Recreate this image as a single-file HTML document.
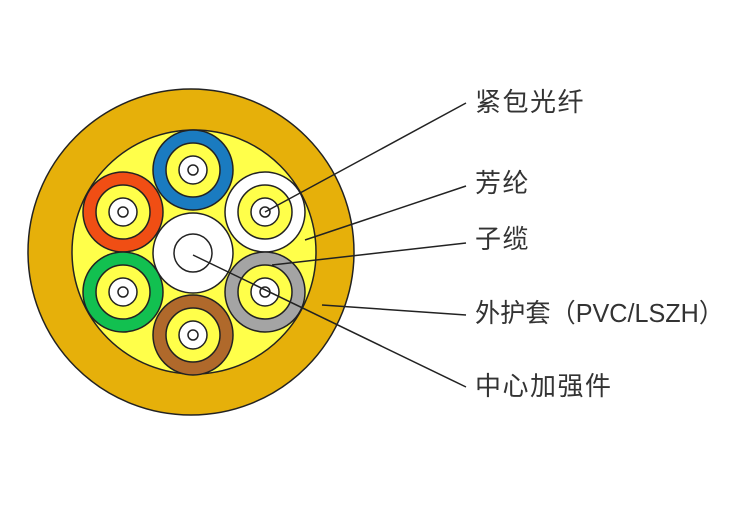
<!DOCTYPE html>
<html><head><meta charset="utf-8"><style>
html,body{margin:0;padding:0;background:#fff;width:734px;height:516px;overflow:hidden}
svg{display:block}
text{font-family:"Liberation Sans","Noto Sans CJK SC",sans-serif;font-size:26px;fill:#333;letter-spacing:1.5px}
</style></head><body>
<svg width="734" height="516" viewBox="0 0 734 516">
<g stroke="#222" stroke-width="1.5">
<circle cx="191" cy="252" r="163" fill="#e6b00a"/>
<circle cx="194" cy="252" r="122" fill="#ffff4a"/>
<circle cx="193" cy="170" r="40" fill="#1a7bc0"/>
<circle cx="123" cy="212" r="40" fill="#f04e14"/>
<circle cx="123" cy="292" r="40" fill="#12c050"/>
<circle cx="193" cy="335" r="40" fill="#b0692b"/>
<circle cx="265" cy="212" r="40" fill="#fff"/>
<circle cx="265" cy="292" r="40" fill="#a4a4a4"/>
<g fill="#ffff4a">
<circle cx="193" cy="170" r="27"/><circle cx="123" cy="212" r="27"/><circle cx="123" cy="292" r="27"/>
<circle cx="193" cy="335" r="27"/><circle cx="265" cy="212" r="27"/><circle cx="265" cy="292" r="27"/>
</g>
<g fill="#fff">
<circle cx="193" cy="170" r="14"/><circle cx="123" cy="212" r="14"/><circle cx="123" cy="292" r="14"/>
<circle cx="193" cy="335" r="14"/><circle cx="265" cy="212" r="14"/><circle cx="265" cy="292" r="14"/>
<circle cx="193" cy="170" r="5"/><circle cx="123" cy="212" r="5"/><circle cx="123" cy="292" r="5"/>
<circle cx="193" cy="335" r="5"/><circle cx="265" cy="212" r="5"/><circle cx="265" cy="292" r="5"/>
<circle cx="193" cy="253" r="40"/>
<circle cx="193" cy="253" r="19"/>
</g>
<g fill="none">
<line x1="265" y1="212" x2="466" y2="103"/>
<line x1="305" y1="240" x2="466" y2="186"/>
<line x1="272" y1="265" x2="466" y2="243"/>
<line x1="322" y1="305" x2="466" y2="315"/>
<line x1="193" y1="255" x2="466" y2="387"/>
</g>
</g>
<text x="475" y="111">紧包光纤</text>
<text x="475" y="192">芳纶</text>
<text x="475" y="248">子缆</text>
<text x="475" y="322" textLength="249" lengthAdjust="spacingAndGlyphs" style="letter-spacing:0">外护套（PVC/LSZH）</text>
<text x="475" y="395">中心加强件</text>
</svg>
</body></html>
